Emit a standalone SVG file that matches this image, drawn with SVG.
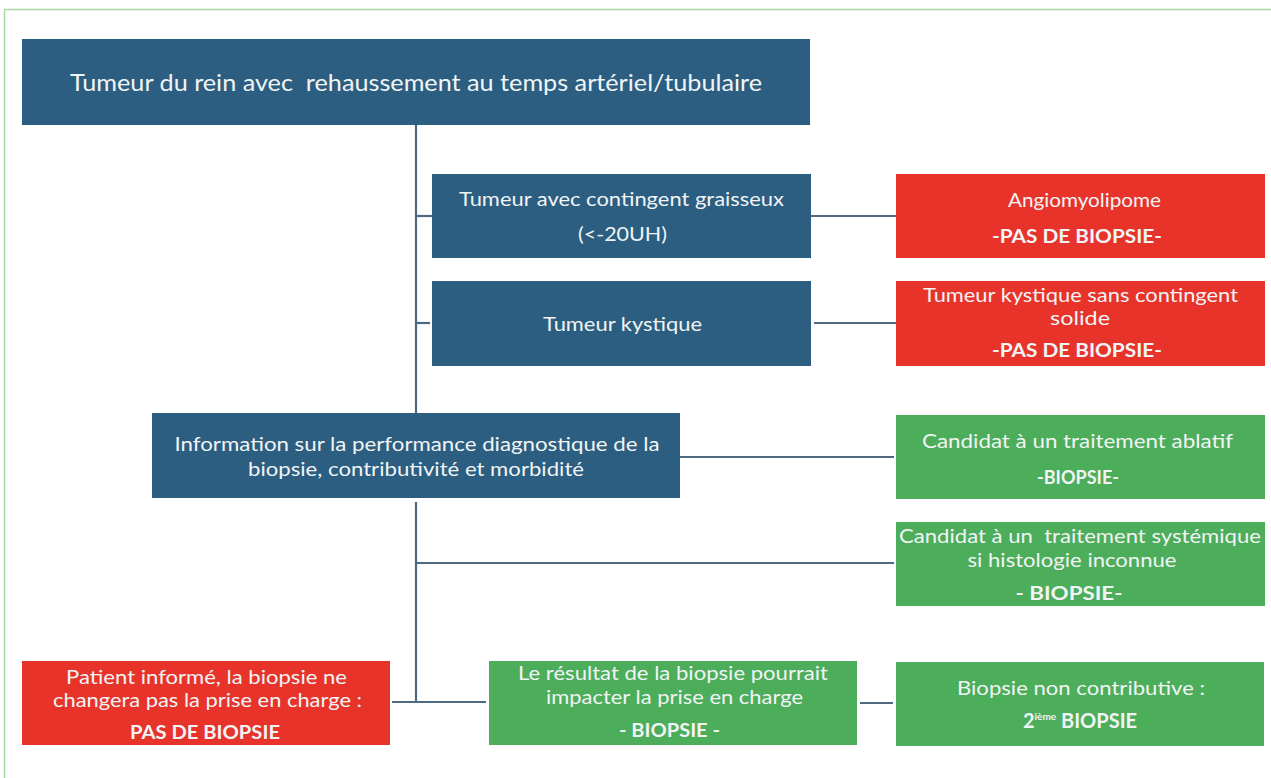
<svg xmlns="http://www.w3.org/2000/svg" width="1271" height="778" viewBox="0 0 1271 778">
<style>
.frame{fill:#ffffff;stroke:#a8d8a4;stroke-width:1.5}
.blue{fill:#2b5e80}
.red{fill:#e8332b}
.green{fill:#4cad5a}
.conn{stroke:#4d6a82;stroke-width:2.2;fill:none}
text{font-family:Lato,"Open Sans","Liberation Sans",sans-serif;fill:#f1f4f5;text-anchor:middle;font-size:19.5px;white-space:pre}
.s{font-size:18.8px}
.b{font-weight:bold}
.top{font-size:24px}
</style>
<rect class="frame" x="4.5" y="9.5" width="1290" height="800"/>
<g id="connectors">
<line class="conn" x1="416" y1="125" x2="416" y2="413"/>
<line class="conn" x1="416" y1="502" x2="416" y2="702"/>
<line class="conn" x1="416" y1="216" x2="432" y2="216"/>
<line class="conn" x1="811" y1="216" x2="896" y2="216"/>
<line class="conn" x1="416" y1="323" x2="430" y2="323"/>
<line class="conn" x1="814" y1="323" x2="896" y2="323"/>
<line class="conn" x1="680" y1="457" x2="894" y2="457"/>
<line class="conn" x1="416" y1="563" x2="894" y2="563"/>
<line class="conn" x1="392" y1="702" x2="486" y2="702"/>
<line class="conn" x1="860" y1="703" x2="893" y2="703"/>
</g>
<g id="n-root">
<rect class="blue" x="22" y="39" width="788" height="86"/>
<text class="top" x="416" y="91" textLength="692" lengthAdjust="spacingAndGlyphs">Tumeur du rein avec  rehaussement au temps artériel/tubulaire</text>
</g>
<g id="n-graisseux">
<rect class="blue" x="432" y="174" width="379" height="84"/>
<text x="621.5" y="206" textLength="325" lengthAdjust="spacingAndGlyphs">Tumeur avec contingent graisseux</text>
<text x="622.5" y="241" textLength="89" lengthAdjust="spacingAndGlyphs">(&lt;-20UH)</text>
</g>
<g id="n-kystique">
<rect class="blue" x="432" y="281" width="379" height="85"/>
<text x="622.5" y="331" textLength="159" lengthAdjust="spacingAndGlyphs">Tumeur kystique</text>
</g>
<g id="n-angio">
<rect class="red" x="896" y="174" width="369" height="84"/>
<text x="1084.5" y="207" textLength="153" lengthAdjust="spacingAndGlyphs">Angiomyolipome</text>
<text class="b" x="1077" y="243" textLength="170" lengthAdjust="spacingAndGlyphs">-PAS DE BIOPSIE-</text>
</g>
<g id="n-kyst-sans">
<rect class="red" x="896" y="281" width="369" height="85"/>
<text class="s" x="1080.5" y="302" textLength="315" lengthAdjust="spacingAndGlyphs">Tumeur kystique sans contingent</text>
<text class="s" x="1080" y="325" textLength="60" lengthAdjust="spacingAndGlyphs">solide</text>
<text class="b s" x="1077" y="357" textLength="170" lengthAdjust="spacingAndGlyphs">-PAS DE BIOPSIE-</text>
</g>
<g id="n-info">
<rect class="blue" x="152" y="413" width="528" height="85"/>
<text x="417" y="451" textLength="485" lengthAdjust="spacingAndGlyphs">Information sur la performance diagnostique de la</text>
<text x="416" y="476" textLength="336" lengthAdjust="spacingAndGlyphs">biopsie, contributivité et morbidité</text>
</g>
<g id="n-ablatif">
<rect class="green" x="896" y="415" width="369" height="84"/>
<text x="1077.5" y="448" textLength="311" lengthAdjust="spacingAndGlyphs">Candidat à un traitement ablatif</text>
<text class="b" x="1078" y="484" textLength="82" lengthAdjust="spacingAndGlyphs">-BIOPSIE-</text>
</g>
<g id="n-systemique">
<rect class="green" x="896" y="522" width="369" height="84"/>
<text class="s" x="1080" y="543" textLength="362" lengthAdjust="spacingAndGlyphs">Candidat à un  traitement systémique</text>
<text class="s" x="1072" y="567" textLength="209" lengthAdjust="spacingAndGlyphs">si histologie inconnue</text>
<text class="b s" x="1069" y="600" textLength="107" lengthAdjust="spacingAndGlyphs">- BIOPSIE-</text>
</g>
<g id="n-patient">
<rect class="red" x="22" y="661" width="368" height="84"/>
<text class="s" x="206.5" y="684" textLength="281" lengthAdjust="spacingAndGlyphs">Patient informé, la biopsie ne</text>
<text class="s" x="207.5" y="707" textLength="309" lengthAdjust="spacingAndGlyphs">changera pas la prise en charge :</text>
<text class="b s" x="205" y="739" textLength="150" lengthAdjust="spacingAndGlyphs">PAS DE BIOPSIE</text>
</g>
<g id="n-resultat">
<rect class="green" x="489" y="661" width="368" height="84"/>
<text class="s" x="673" y="680" textLength="310" lengthAdjust="spacingAndGlyphs">Le résultat de la biopsie pourrait</text>
<text class="s" x="674.5" y="704" textLength="257" lengthAdjust="spacingAndGlyphs">impacter la prise en charge</text>
<text class="b s" x="669.5" y="737" textLength="101" lengthAdjust="spacingAndGlyphs">- BIOPSIE -</text>
</g>
<g id="n-non-contrib">
<rect class="green" x="896" y="662" width="368" height="84"/>
<text x="1081" y="695" textLength="248" lengthAdjust="spacingAndGlyphs">Biopsie non contributive :</text>
<text class="b" x="1080" y="728" style="font-size:20px">2<tspan style="font-size:10px" dy="-8">ième</tspan><tspan dy="8"> BIOPSIE</tspan></text>
</g>
</svg>
